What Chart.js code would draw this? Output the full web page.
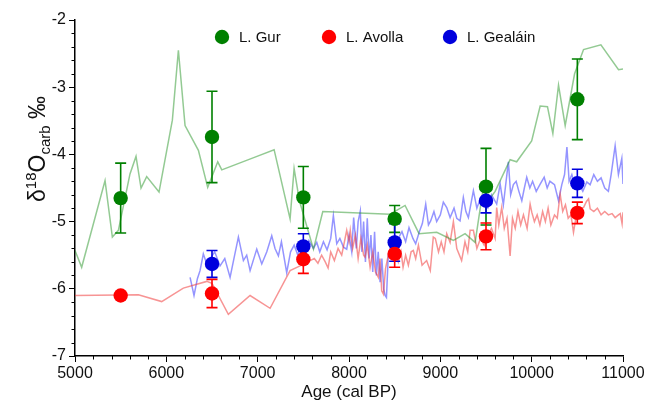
<!DOCTYPE html>
<html><head><meta charset="utf-8">
<script src="https://cdn.jsdelivr.net/npm/chart.js@4/dist/chart.umd.min.js"></script>
<style>html,body{margin:0;padding:0;background:#fff}#wrap{width:650px;height:407px;position:relative}</style>
</head><body><div id="wrap"><canvas id="c" width="650" height="407"></canvas></div>
<script>
// ---------- DATA ----------
const seriesNames = ['L. Gur', 'L. Avolla', 'L. Gealáin'];
const xTickValues = [5000, 6000, 7000, 8000, 9000, 10000, 11000];
const yTickValues = [-7, -6, -5, -4, -3, -2];

// Mean values with error bars (markers)
const gurAge = [5500, 6500, 7500, 8500, 9500, 10500];
const gurMean = [-4.65, -3.74, -4.64, -4.96, -4.48, -3.18];
const gurErr = [0.52, 0.68, 0.46, 0.20, 0.57, 0.60];

const avollaAge = [5500, 6500, 7500, 8500, 9500, 10500];
const avollaMean = [-6.10, -6.07, -5.56, -5.48, -5.22, -4.87];
const avollaErr = [0.02, 0.21, 0.21, 0.20, 0.20, 0.16];

const gealainAge = [6500, 7500, 8500, 9500, 10500];
const gealainMean = [-5.63, -5.37, -5.31, -4.69, -4.43];
const gealainErr = [0.20, 0.19, 0.28, 0.18, 0.21];

// Continuous records (lines)
const gurRecAge = [5000,5073,5329,5409,5475,5602,5668,5723,5785,5920,6066,6132,6205,6351,6453,6505,6563,6607,6971,7180,7355,7399,7457,7611,7713,8450,8614,8767,8961,9143,9271,9381,9470,9520,9600,9764,9836,10000,10093,10173,10232,10294,10367,10470,10568,10758,10951,11000];
const gurRecVal = [-5.43,-5.68,-4.39,-5.23,-5.13,-4.29,-4.03,-4.50,-4.33,-4.56,-3.49,-2.45,-3.57,-3.94,-4.49,-4.31,-4.11,-4.23,-4.04,-3.93,-4.96,-4.21,-4.69,-5.41,-4.85,-4.89,-4.76,-5.18,-5.16,-5.28,-5.18,-5.31,-4.50,-4.70,-4.55,-4.08,-4.11,-3.80,-3.28,-3.29,-3.69,-2.97,-3.57,-2.80,-2.44,-2.37,-2.74,-2.73];

const avollaRecAge = [5000,5694,5949,6186,6442,6500,6679,6917,7136,7355,7464,7520,7574,7620,7660,7700,7740,7771,7800,7840,7880,7920,7950,7975,8000,8014,8040,8070,8100,8130,8160,8176,8200,8231,8260,8290,8322,8340,8358,8377,8400,8430,8460,8500,8540,8570,8592,8620,8650,8680,8704,8730,8760,8800,8850,8890,8923,8945,8980,9010,9040,9070,9107,9143,9180,9233,9270,9300,9326,9362,9400,9440,9480,9520,9560,9600,9617,9640,9672,9700,9730,9764,9790,9820,9850,9880,9910,9950,9983,10001,10030,10060,10090,10120,10150,10180,10210,10250,10280,10312,10340,10370,10400,10430,10458,10490,10530,10568,10600,10623,10641,10680,10720,10760,10800,10840,10880,10914,10950,10970,10990,11000];
const avollaRecVal = [-6.10,-6.09,-6.19,-5.99,-5.89,-5.92,-6.38,-6.10,-6.29,-5.73,-5.66,-5.62,-5.58,-5.55,-5.62,-5.50,-5.60,-5.69,-5.45,-5.58,-5.40,-5.50,-5.30,-5.13,-5.30,-5.13,-5.40,-5.20,-5.55,-5.25,-5.50,-5.53,-5.35,-5.68,-5.45,-5.75,-5.83,-5.55,-6.03,-6.08,-5.70,-5.50,-5.55,-5.40,-5.60,-5.45,-5.68,-5.50,-5.65,-5.45,-5.43,-5.55,-5.35,-5.65,-5.58,-5.73,-5.23,-5.25,-5.45,-5.30,-5.45,-5.18,-5.31,-5.00,-5.40,-5.58,-5.30,-5.45,-5.13,-5.13,-5.40,-5.25,-5.35,-5.20,-5.10,-5.25,-4.79,-5.05,-4.79,-5.10,-4.95,-5.51,-4.95,-5.10,-4.85,-5.05,-4.90,-5.10,-4.74,-4.86,-5.00,-4.90,-5.05,-4.85,-5.00,-4.80,-5.05,-4.90,-4.95,-4.59,-4.85,-4.75,-4.95,-4.90,-5.16,-4.90,-4.80,-4.79,-4.70,-4.66,-4.81,-4.85,-4.80,-4.90,-4.85,-4.90,-4.88,-4.94,-4.90,-4.88,-5.03,-4.86];

const gealainRecAge = [6260,6303,6340,6369,6405,6440,6480,6530,6588,6640,6698,6740,6789,6844,6880,6917,6990,7045,7100,7154,7190,7227,7260,7318,7360,7400,7440,7480,7520,7560,7610,7647,7680,7720,7760,7800,7829,7866,7900,7940,7975,8000,8030,8051,8080,8100,8124,8140,8160,8180,8200,8220,8240,8260,8280,8300,8320,8340,8360,8380,8395,8410,8430,8460,8500,8540,8580,8620,8657,8700,8730,8770,8803,8840,8870,8894,8930,8960,9000,9033,9070,9107,9150,9180,9216,9252,9280,9307,9340,9362,9400,9440,9480,9520,9560,9617,9655,9690,9720,9745,9770,9800,9830,9860,9892,9920,9946,9980,10010,10050,10090,10137,10170,10200,10250,10294,10330,10360,10386,10410,10440,10480,10520,10560,10604,10640,10680,10720,10760,10800,10840,10870,10914,10950,10987,11000];
const gealainRecVal = [-5.83,-6.10,-5.85,-5.73,-5.48,-5.62,-5.55,-5.45,-5.66,-5.55,-5.83,-5.55,-5.23,-5.58,-5.50,-5.73,-5.41,-5.63,-5.45,-5.21,-5.40,-5.51,-5.30,-5.76,-5.45,-5.35,-5.50,-5.30,-5.40,-5.28,-5.40,-5.31,-5.45,-5.30,-5.42,-5.25,-4.91,-5.33,-5.25,-5.38,-5.41,-5.20,-5.45,-4.94,-5.40,-5.00,-4.84,-5.45,-5.00,-5.60,-4.95,-5.55,-5.20,-5.75,-5.15,-5.80,-5.45,-5.90,-5.55,-6.00,-6.10,-6.13,-5.50,-5.35,-5.20,-5.25,-5.15,-5.30,-5.09,-5.25,-5.33,-5.15,-5.03,-4.74,-5.05,-4.99,-4.85,-5.00,-4.90,-4.71,-4.79,-4.94,-4.80,-4.95,-4.99,-4.64,-4.85,-4.94,-4.70,-4.54,-4.80,-4.65,-4.75,-4.80,-4.60,-4.74,-4.44,-4.75,-4.40,-4.11,-4.60,-4.45,-4.40,-4.55,-4.69,-4.50,-4.34,-4.50,-4.40,-4.55,-4.45,-4.34,-4.50,-4.40,-4.45,-4.69,-4.45,-4.30,-3.89,-4.40,-4.30,-4.50,-4.45,-4.55,-4.41,-4.45,-4.30,-4.40,-4.35,-4.50,-4.55,-4.30,-3.87,-4.30,-4.06,-4.44];

// ---------- STYLE ----------
const FONT = "'Liberation Sans', Arial, Helvetica, sans-serif";
const markerColors = ['#008000', '#ff0000', '#0000dd'];
const lineColors = ['rgba(40,150,40,0.5)', 'rgba(240,60,60,0.55)', 'rgba(60,60,255,0.55)'];

const zip = (xs, ys) => xs.map((x, i) => ({x: x, y: ys[i]}));

const markerSets = [
  {age: gurAge, mean: gurMean, err: gurErr},
  {age: avollaAge, mean: avollaMean, err: avollaErr},
  {age: gealainAge, mean: gealainMean, err: gealainErr}
];
const recordSets = [
  {age: gurRecAge, val: gurRecVal},
  {age: avollaRecAge, val: avollaRecVal},
  {age: gealainRecAge, val: gealainRecVal}
];
const markerOrder = [2, 0, 1]; // red on top, then blue, then green

const datasets = [];
markerSets.forEach((s, i) => {
  datasets.push({
    type: 'scatter', label: seriesNames[i], data: zip(s.age, s.mean),
    backgroundColor: markerColors[i], borderColor: markerColors[i],
    pointRadius: 7.2, pointHoverRadius: 7.2, borderWidth: 0, order: markerOrder[i],
    errors: s.err
  });
});
recordSets.forEach((s, i) => {
  datasets.push({
    type: 'line', label: seriesNames[i] + ' record', data: zip(s.age, s.val),
    borderColor: lineColors[i], borderWidth: 1.5, pointRadius: 0, tension: 0, fill: false, order: 5
  });
});

const errorBarPlugin = {
  id: 'errorBars',
  beforeDatasetDraw(chart, args) {
    if (args.index !== 0) return;
    const ctx = chart.ctx, xs = chart.scales.x, ys = chart.scales.y;
    ctx.save();
    ctx.lineWidth = 1.6;
    [0, 2, 1].forEach(i => {
      const ds = chart.data.datasets[i];
      ctx.strokeStyle = markerColors[i];
      ds.data.forEach((p, k) => {
        const e = ds.errors[k];
        const px = xs.getPixelForValue(p.x);
        const y1 = ys.getPixelForValue(p.y + e), y2 = ys.getPixelForValue(p.y - e);
        ctx.beginPath();
        ctx.moveTo(px, y1); ctx.lineTo(px, y2);
        ctx.moveTo(px - 5.5, y1); ctx.lineTo(px + 5.5, y1);
        ctx.moveTo(px - 5.5, y2); ctx.lineTo(px + 5.5, y2);
        ctx.stroke();
      });
    });
    ctx.restore();
  }
};

const decorPlugin = {
  id: 'decor',
  afterDraw(chart) {
    const ctx = chart.ctx, xs = chart.scales.x, ys = chart.scales.y, a = chart.chartArea;
    ctx.save();
    // minor ticks
    ctx.strokeStyle = '#000'; ctx.lineWidth = 1;
    ctx.beginPath();
    for (let v = xs.min; v <= xs.max + 1e-6; v += 200) {
      if (Math.abs(v % 1000) < 1e-6) continue;
      const px = Math.round(xs.getPixelForValue(v)) + 0.5;
      ctx.moveTo(px, a.bottom); ctx.lineTo(px, a.bottom + 3.5);
    }
    for (let k = 0; k <= 25; k++) {
      const v = ys.min + k * 0.2;
      if (k % 5 === 0) continue;
      const py = Math.round(ys.getPixelForValue(v)) + 0.5;
      ctx.moveTo(a.left, py); ctx.lineTo(a.left - 3.5, py);
    }
    ctx.stroke();

    // legend
    const legendX = [222, 329, 450];
    const legendY = 37;
    ctx.font = '15px ' + FONT;
    ctx.textBaseline = 'middle';
    ctx.textAlign = 'left';
    seriesNames.forEach((n, i) => {
      ctx.fillStyle = markerColors[i];
      ctx.beginPath(); ctx.arc(legendX[i], legendY, 7.2, 0, Math.PI * 2); ctx.fill();
      ctx.fillStyle = '#111';
      ctx.fillText(n, legendX[i] + 17, legendY + 1);
    });

    // y axis title: δ18Ocarb ‰
    const big = 23, small = 15;
    const parts = [
      {t: 'δ', s: big, dy: 0},
      {t: '18', s: small, dy: -9},
      {t: 'O', s: big, dy: 0},
      {t: 'carb', s: small, dy: 5},
      {t: ' ‰', s: big, dy: 0}
    ];
    let total = 0;
    parts.forEach(p => { ctx.font = p.s + 'px ' + FONT; p.w = ctx.measureText(p.t).width; total += p.w; });
    ctx.translate(45, 149);
    ctx.rotate(-Math.PI / 2);
    ctx.fillStyle = '#111';
    ctx.textBaseline = 'alphabetic';
    let cx = -total / 2;
    parts.forEach(p => {
      ctx.font = p.s + 'px ' + FONT;
      ctx.fillText(p.t, cx, p.dy);
      cx += p.w;
    });
    ctx.restore();
  }
};

new Chart(document.getElementById('c'), {
  data: {datasets: datasets},
  options: {
    responsive: false, animation: false, devicePixelRatio: 1,
    layout: {padding: {top: 20, right: 27, left: 0, bottom: 0}},
    plugins: {legend: {display: false}, tooltip: {enabled: false}},
    scales: {
      x: {
        type: 'linear', min: 5000, max: 11000,
        afterBuildTicks: s => { s.ticks = xTickValues.map(v => ({value: v})); },
        afterFit: s => { s.height = 51; },
        ticks: {font: {size: 16, family: FONT}, color: '#111', padding: 2, maxRotation: 0, autoSkip: false,
                callback: v => String(v)},
        grid: {drawOnChartArea: false, drawTicks: true, tickLength: 6, color: '#000', lineWidth: 1},
        border: {display: true, color: '#000', width: 1.5},
        title: {display: true, text: 'Age (cal BP)', font: {size: 17, family: FONT}, color: '#111', padding: {top: 0, bottom: 4}}
      },
      y: {
        type: 'linear', min: -7, max: -2,
        afterBuildTicks: s => { s.ticks = yTickValues.map(v => ({value: v})); },
        afterFit: s => { s.width = 75; },
        ticks: {font: {size: 16, family: FONT}, color: '#111', padding: 3, callback: v => String(v)},
        grid: {drawOnChartArea: false, drawTicks: true, tickLength: 6, color: '#000', lineWidth: 1},
        border: {display: true, color: '#000', width: 1.5}
      }
    }
  },
  plugins: [errorBarPlugin, decorPlugin]
});
</script></body></html>
